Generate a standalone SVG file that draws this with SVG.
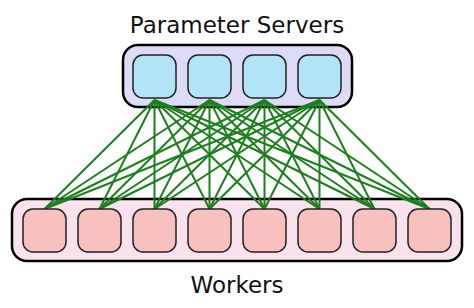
<svg xmlns="http://www.w3.org/2000/svg" width="474" height="308" viewBox="0 0 474 308">
<style>
.lbl{font-family:"DejaVu Sans",sans-serif;font-size:23px;fill:#111;text-anchor:middle}
.cont{stroke:#000;stroke-width:2.5}
.ps{fill:#dcdcf6}
.wk{fill:#f8e2ec}
.node{stroke:#222;stroke-width:1.5}
.psn{fill:#b2e4f8}
.wkn{fill:#f9c0c0}
#edges line{stroke:#1d7f1d;stroke-width:2}
</style>
<rect width="474" height="308" fill="#fff"/>
<text class="lbl" x="237" y="33">Parameter Servers</text>
<text class="lbl" x="237" y="293">Workers</text>
<rect id="ps-group" class="cont ps" x="123" y="45" width="229" height="62" rx="15"/>
<rect id="wk-group" class="cont wk" x="12" y="199" width="450" height="62" rx="15"/>
<g id="edges">
<line x1="154.5" y1="100" x2="44.5" y2="209"/><line x1="154.5" y1="100" x2="99.5" y2="209"/><line x1="154.5" y1="100" x2="154.5" y2="209"/><line x1="154.5" y1="100" x2="209.5" y2="209"/><line x1="154.5" y1="100" x2="264.5" y2="209"/><line x1="154.5" y1="100" x2="319.5" y2="209"/><line x1="154.5" y1="100" x2="374.5" y2="209"/><line x1="154.5" y1="100" x2="429.5" y2="209"/>
<line x1="209.5" y1="100" x2="44.5" y2="209"/><line x1="209.5" y1="100" x2="99.5" y2="209"/><line x1="209.5" y1="100" x2="154.5" y2="209"/><line x1="209.5" y1="100" x2="209.5" y2="209"/><line x1="209.5" y1="100" x2="264.5" y2="209"/><line x1="209.5" y1="100" x2="319.5" y2="209"/><line x1="209.5" y1="100" x2="374.5" y2="209"/><line x1="209.5" y1="100" x2="429.5" y2="209"/>
<line x1="264.5" y1="100" x2="44.5" y2="209"/><line x1="264.5" y1="100" x2="99.5" y2="209"/><line x1="264.5" y1="100" x2="154.5" y2="209"/><line x1="264.5" y1="100" x2="209.5" y2="209"/><line x1="264.5" y1="100" x2="264.5" y2="209"/><line x1="264.5" y1="100" x2="319.5" y2="209"/><line x1="264.5" y1="100" x2="374.5" y2="209"/><line x1="264.5" y1="100" x2="429.5" y2="209"/>
<line x1="319.5" y1="100" x2="44.5" y2="209"/><line x1="319.5" y1="100" x2="99.5" y2="209"/><line x1="319.5" y1="100" x2="154.5" y2="209"/><line x1="319.5" y1="100" x2="209.5" y2="209"/><line x1="319.5" y1="100" x2="264.5" y2="209"/><line x1="319.5" y1="100" x2="319.5" y2="209"/><line x1="319.5" y1="100" x2="374.5" y2="209"/><line x1="319.5" y1="100" x2="429.5" y2="209"/>
</g>
<g id="ps1"><rect class="node psn" x="133" y="55" width="43" height="43" rx="10"/></g>
<g id="ps2"><rect class="node psn" x="188" y="55" width="43" height="43" rx="10"/></g>
<g id="ps3"><rect class="node psn" x="243" y="55" width="43" height="43" rx="10"/></g>
<g id="ps4"><rect class="node psn" x="298" y="55" width="43" height="43" rx="10"/></g>
<g id="w1"><rect class="node wkn" x="23" y="209" width="43" height="43" rx="10"/></g>
<g id="w2"><rect class="node wkn" x="78" y="209" width="43" height="43" rx="10"/></g>
<g id="w3"><rect class="node wkn" x="133" y="209" width="43" height="43" rx="10"/></g>
<g id="w4"><rect class="node wkn" x="188" y="209" width="43" height="43" rx="10"/></g>
<g id="w5"><rect class="node wkn" x="243" y="209" width="43" height="43" rx="10"/></g>
<g id="w6"><rect class="node wkn" x="298" y="209" width="43" height="43" rx="10"/></g>
<g id="w7"><rect class="node wkn" x="353" y="209" width="43" height="43" rx="10"/></g>
<g id="w8"><rect class="node wkn" x="408" y="209" width="43" height="43" rx="10"/></g>
</svg>
